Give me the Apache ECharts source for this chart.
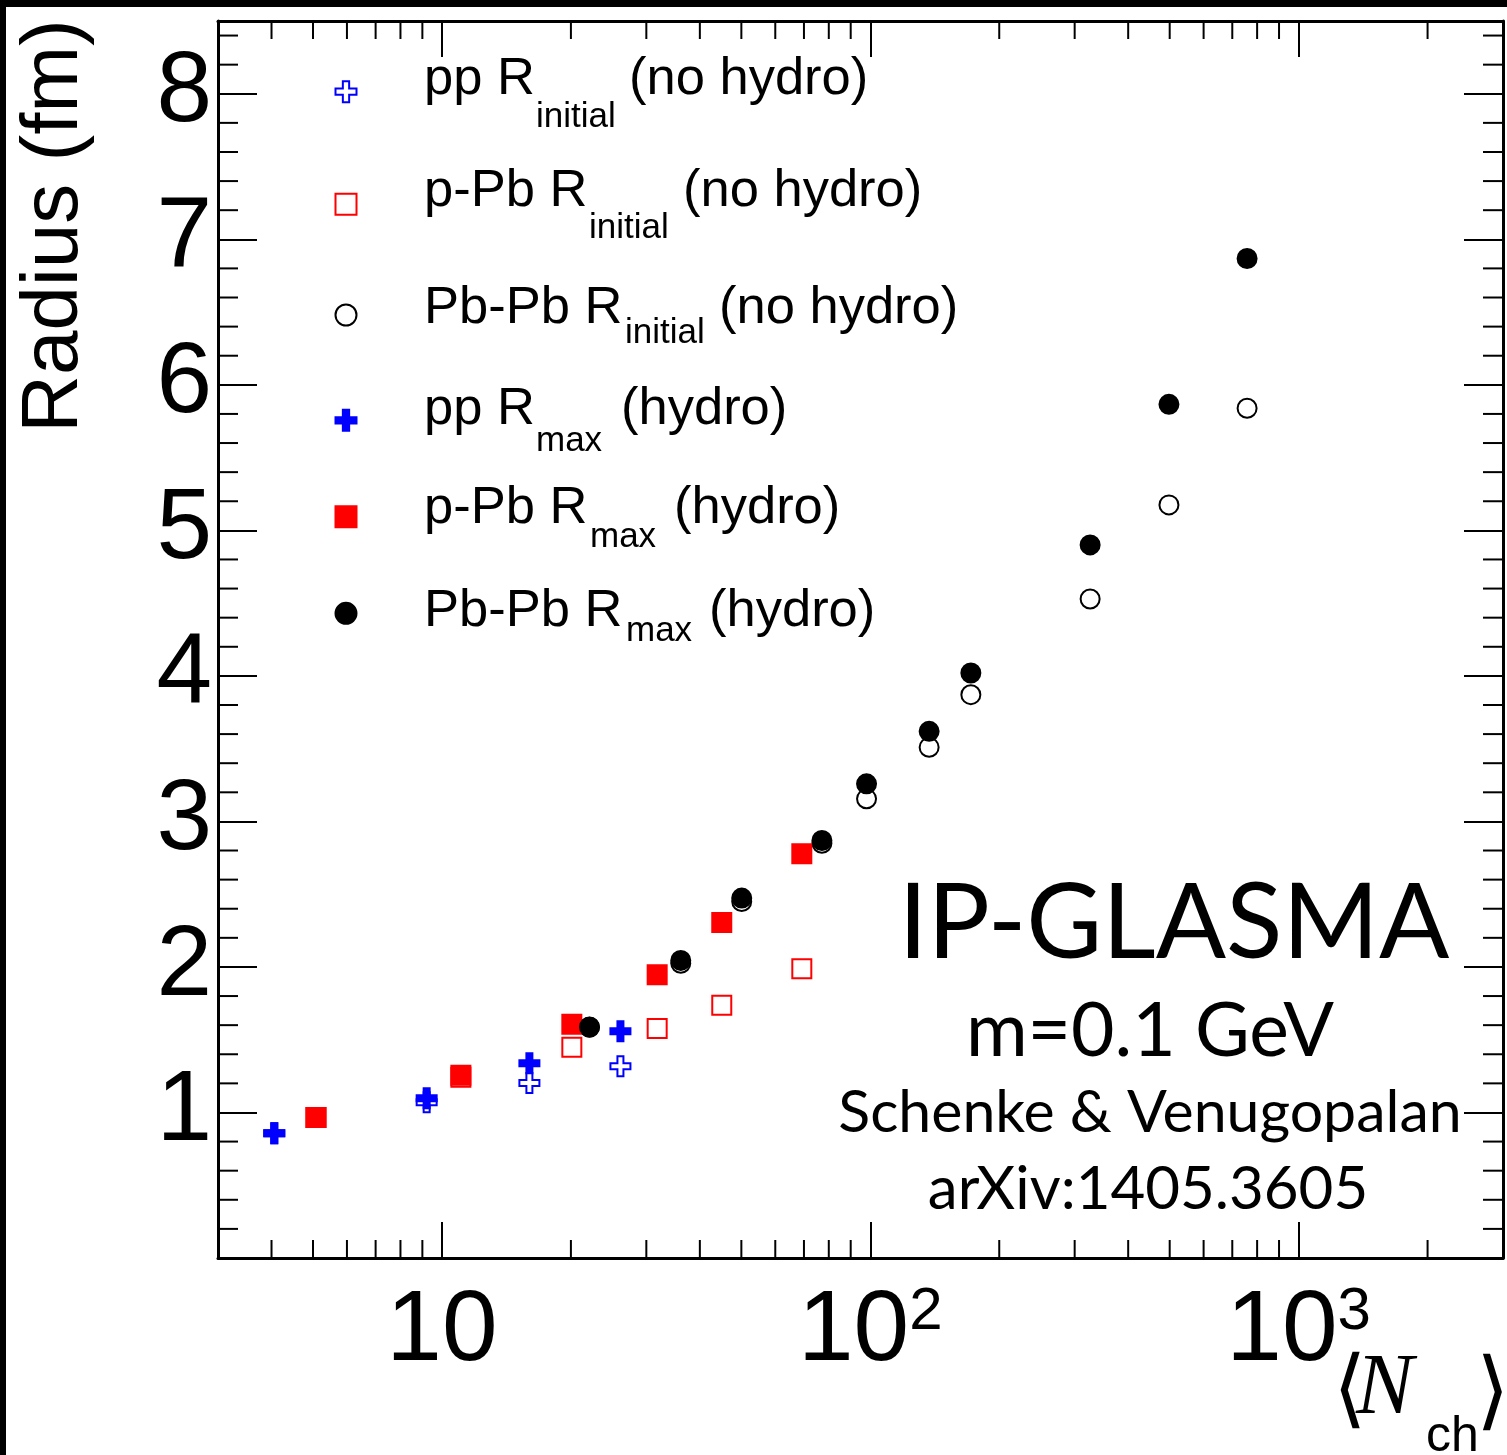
<!DOCTYPE html>
<html>
<head>
<meta charset="utf-8">
<script src="https://cdn.jsdelivr.net/npm/echarts@6.0.0/dist/echarts.min.js"></script>
<style>
  html, body { margin: 0; padding: 0; background: #fff; }
  #chart { width: 1507px; height: 1455px; }
</style>
</head>
<body>
<div id="chart"></div>
<script>
// pp : blue crosses
var ppNch       = [4.06, 9.21, 16.0, 26.1];
var ppRinitial  = [0.858, 1.070, 1.203, 1.318];
var ppRmax      = [0.858, 1.098, 1.338, 1.558];
// p-Pb : red squares
var pPbNch      = [5.08, 11.07, 20.1, 31.8, 45.0, 69.2];
var pPbRinitial = [0.966, 1.242, 1.448, 1.577, 1.736, 1.988];
var pPbRmax     = [0.966, 1.256, 1.606, 1.947, 2.306, 2.778];
// Pb-Pb : black circles
var PbPbNch      = [22.1, 36.1, 50.1, 77.1, 98.0, 137.2, 171.7, 326, 498, 758];
var PbPbRinitial = [1.585, 2.025, 2.450, 2.850, 3.155, 3.509, 3.871, 4.528, 5.175, 5.839];
var PbPbRmax     = [1.588, 2.045, 2.473, 2.869, 3.258, 3.619, 4.020, 4.900, 5.866, 6.868];

// minor ticks (log x, linear y)
var xMinorTicks = [4, 5, 6, 7, 8, 9, 20, 30, 40, 50, 60, 70, 80, 90,
                   200, 300, 400, 500, 600, 700, 800, 900, 2000];
var yMinorTicks = [0.2, 0.4, 0.6, 0.8, 1.2, 1.4, 1.6, 1.8, 2.2, 2.4, 2.6, 2.8,
                   3.2, 3.4, 3.6, 3.8, 4.2, 4.4, 4.6, 4.8, 5.2, 5.4, 5.6, 5.8,
                   6.2, 6.4, 6.6, 6.8, 7.2, 7.4, 7.6, 7.8, 8.2, 8.4];

// legend texts
var seriesNames = ['pp Rinitial (no hydro)', 'p-Pb Rinitial (no hydro)', 'Pb-Pb Rinitial (no hydro)',
                   'pp Rmax (hydro)', 'p-Pb Rmax (hydro)', 'Pb-Pb Rmax (hydro)'];
var legendMain = ['pp R', 'p-Pb R', 'Pb-Pb R', 'pp R', 'p-Pb R', 'Pb-Pb R'];
var legendSub  = ['initial', 'initial', 'initial', 'max', 'max', 'max'];
var legendTail = ['(no hydro)', '(no hydro)', '(no hydro)', '(hydro)', '(hydro)', '(hydro)'];

var infoLines = ['IP-GLASMA', 'm=0.1 GeV', 'Schenke & Venugopalan', 'arXiv:1405.3605'];

var chart = echarts.init(document.getElementById('chart'));

var CROSS = 'path://M7,0H13V7H20V13H13V20H7V13H0V7H7Z';
var SANS = '"Liberation Sans", Arial, Helvetica, sans-serif';
var GILL = 'Lato, "Open Sans", sans-serif';

function pts(xs, ys) {
  return xs.map(function (x, i) { return [x, ys[i]]; });
}

function openStyle(c) { return { color: 'rgba(0,0,0,0)', borderColor: c, borderWidth: 2, opacity: 1 }; }
function fullStyle(c) { return { color: c, borderColor: c, borderWidth: 2, opacity: 1 }; }

// legend layout: marker centre y, text baselines, x of each piece
var legendRows = [
  { cy: 90.7,  base: 98,    subBase: 129,   subX: 536, tailX: 629 },
  { cy: 203.3, base: 210,   subBase: 240,   subX: 589, tailX: 683 },
  { cy: 314,   base: 327,   subBase: 345,   subX: 625, tailX: 719 },
  { cy: 419.3, base: 428,   subBase: 453,   subX: 536, tailX: 621 },
  { cy: 515.7, base: 526.5, subBase: 549,   subX: 590, tailX: 674 },
  { cy: 612.3, base: 630,   subBase: 643,   subX: 626, tailX: 709 }
];
var MAIN_FS = 52.5, SUB_FS = 35;

var graphics = [
  { type: 'rect', shape: { x: 0, y: 0, width: 1507, height: 7 }, style: { fill: '#000' } },
  { type: 'rect', shape: { x: 0, y: 0, width: 6, height: 1455 }, style: { fill: '#000' } },
  { type: 'text', x: 55, y: 226, rotation: Math.PI / 2,
    style: { text: 'Radius (fm)', fontSize: 80, fontFamily: SANS, fill: '#000', align: 'center', verticalAlign: 'middle' } }
];

legendRows.forEach(function (r, i) {
  graphics.push({ type: 'text', x: 424, y: r.base - 0.3465 * MAIN_FS,
    style: { text: legendMain[i], fontSize: MAIN_FS, fontFamily: SANS, fill: '#000', align: 'left', verticalAlign: 'middle' } });
  graphics.push({ type: 'text', x: r.subX, y: r.subBase - 0.3465 * SUB_FS,
    style: { text: legendSub[i], fontSize: SUB_FS, fontFamily: SANS, fill: '#000', align: 'left', verticalAlign: 'middle' } });
  graphics.push({ type: 'text', x: r.tailX, y: r.base - 0.3465 * MAIN_FS,
    style: { text: legendTail[i], fontSize: MAIN_FS, fontFamily: SANS, fill: '#000', align: 'left', verticalAlign: 'middle' } });
});

// IP-GLASMA block
var infoLayout = [
  { x: 1174, base: 960,  size: 104 },
  { x: 1150, base: 1057, size: 75 },
  { x: 1150, base: 1133, size: 59 },
  { x: 1148, base: 1210, size: 60 }
];
infoLayout.forEach(function (l, i) {
  graphics.push({ type: 'text', x: l.x, y: l.base - 0.34 * l.size,
    style: { text: infoLines[i], fontSize: l.size, fontFamily: GILL, fill: '#000', align: 'center', verticalAlign: 'middle' } });
});

// x axis title  <N_ch>
graphics.push({ type: 'text', x: 1350, y: 1395,
  style: { text: '\u27E8', fontSize: 86, fontFamily: '"DejaVu Sans"', fontWeight: 200, fill: '#000', align: 'center', verticalAlign: 'middle' } });
graphics.push({ type: 'text', x: 1356, y: 1419 - 0.3375 * 86,
  style: { text: 'N', fontSize: 86, fontFamily: '"Liberation Serif", serif', fontStyle: 'italic', fill: '#000', align: 'left', verticalAlign: 'middle' } });
graphics.push({ type: 'text', x: 1426, y: 1455 - 0.3465 * 50,
  style: { text: 'ch', fontSize: 50, fontFamily: SANS, fill: '#000', align: 'left', verticalAlign: 'middle' } });
graphics.push({ type: 'text', x: 1493, y: 1397,
  style: { text: '\u27E9', fontSize: 86, fontFamily: '"DejaVu Sans"', fontWeight: 200, fill: '#000', align: 'center', verticalAlign: 'middle' } });

var axisLine = { show: true, onZero: false, lineStyle: { color: '#000', width: 3 } };

function xAxisCfg(pos, showLabel) {
  return {
    type: 'log', logBase: 10, min: 3, max: 3000, position: pos,
    axisLine: axisLine,
    axisTick: { show: true, inside: true, length: 36, lineStyle: { color: '#000', width: 2 } },
    splitLine: { show: false },
    axisLabel: {
      show: showLabel, margin: 24, showMinLabel: false, showMaxLabel: false,
      formatter: function (v) {
        var e = Math.round(Math.log10(v));
        if (Math.abs(Math.log10(v) - e) > 1e-6) return '';
        if (e === 1) return '{b|10}';
        if (e === 2 || e === 3) return '{b|10}{s|' + e + '}';
        return '';
      },
      rich: {
        b: { fontSize: 100, lineHeight: 100, fontFamily: SANS, color: '#000' },
        s: { fontSize: 60, lineHeight: 30, verticalAlign: 'top', fontFamily: SANS, color: '#000' }
      }
    }
  };
}

function yAxisCfg(pos, showLabel) {
  return {
    type: 'value', min: 0, max: 8.5, interval: 1, position: pos,
    axisLine: axisLine,
    axisTick: { show: true, inside: true, length: 39, lineStyle: { color: '#000', width: 2 } },
    splitLine: { show: false },
    axisLabel: {
      show: showLabel, margin: 6, fontSize: 100, fontFamily: SANS, color: '#000',
      showMinLabel: false, showMaxLabel: false,
      formatter: function (v) { return (v >= 1 && v <= 8 && Math.abs(v - Math.round(v)) < 1e-6) ? String(v) : ''; }
    }
  };
}

var option = {
  animation: false,
  backgroundColor: '#fff',
  grid: { left: 218, right: 4, top: 21, bottom: 197, containLabel: false, outerBoundsMode: 'none' },
  xAxis: [xAxisCfg('bottom', true), xAxisCfg('top', false)],
  yAxis: [yAxisCfg('left', true), yAxisCfg('right', false)],
  legend: legendRows.map(function (r, i) {
    return {
      data: [seriesNames[i]], left: 345 - 10.5, top: r.cy - 10.5, padding: 0,
      itemWidth: 21, itemHeight: 21, selectedMode: false,
      formatter: function () { return ''; }, textStyle: { fontSize: 10 }
    };
  }),
  graphic: graphics,
  series: [
    { name: seriesNames[0], type: 'scatter', data: pts(ppNch, ppRinitial), symbol: CROSS, symbolSize: 20, itemStyle: openStyle('#0000ff') },
    { name: seriesNames[1], type: 'scatter', data: pts(pPbNch, pPbRinitial), symbol: 'rect', symbolSize: 19, itemStyle: openStyle('#ff0000') },
    { name: seriesNames[2], type: 'scatter', data: pts(PbPbNch, PbPbRinitial), symbol: 'circle', symbolSize: 19, itemStyle: openStyle('#000000') },
    { name: seriesNames[3], type: 'scatter', data: pts(ppNch, ppRmax), symbol: CROSS, symbolSize: 20, itemStyle: fullStyle('#0000ff') },
    { name: seriesNames[4], type: 'scatter', data: pts(pPbNch, pPbRmax), symbol: 'rect', symbolSize: 19, itemStyle: fullStyle('#ff0000') },
    { name: seriesNames[5], type: 'scatter', data: pts(PbPbNch, PbPbRmax), symbol: 'circle', symbolSize: 19, itemStyle: fullStyle('#000000') },
    {
      type: 'custom', silent: true, data: xMinorTicks.map(function (v) { return [v, 1]; }),
      renderItem: function (params, api) {
        var cs = params.coordSys, x = api.coord([api.value(0), 1])[0];
        var yb = cs.y + cs.height, yt = cs.y;
        return { type: 'group', children: [
          { type: 'line', shape: { x1: x, y1: yb, x2: x, y2: yb - 18 }, style: { stroke: '#000', lineWidth: 2 } },
          { type: 'line', shape: { x1: x, y1: yt, x2: x, y2: yt + 18 }, style: { stroke: '#000', lineWidth: 2 } }
        ] };
      }
    },
    {
      type: 'custom', silent: true, data: yMinorTicks.map(function (v) { return [10, v]; }),
      renderItem: function (params, api) {
        var cs = params.coordSys, y = api.coord([10, api.value(1)])[1];
        var xl = cs.x, xr = cs.x + cs.width;
        return { type: 'group', children: [
          { type: 'line', shape: { x1: xl, y1: y, x2: xl + 20, y2: y }, style: { stroke: '#000', lineWidth: 2 } },
          { type: 'line', shape: { x1: xr, y1: y, x2: xr - 20, y2: y }, style: { stroke: '#000', lineWidth: 2 } }
        ] };
      }
    }
  ]
};

chart.setOption(option);
</script>
</body>
</html>
